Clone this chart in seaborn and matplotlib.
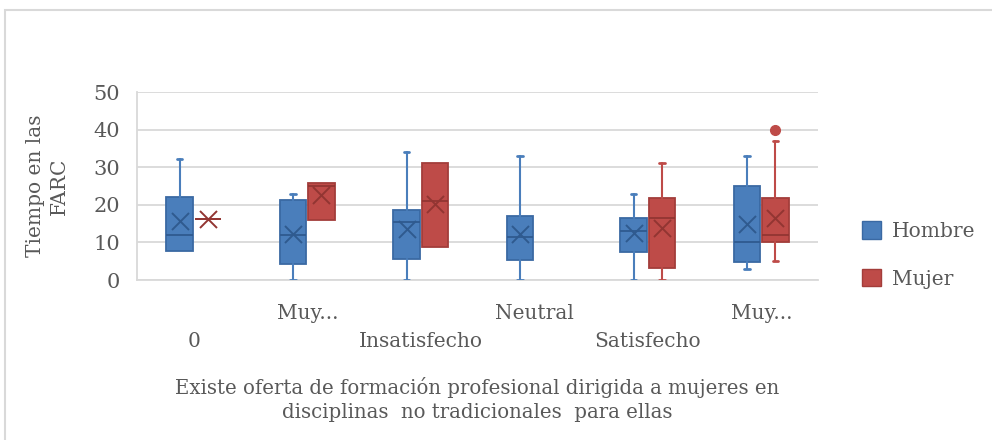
import matplotlib
matplotlib.use("Agg")
import matplotlib.pyplot as plt
from matplotlib.patches import Patch, Rectangle
import seaborn as sns

# ---- data ----
categories = ["0", "Muy...", "Insatisfecho", "Neutral", "Satisfecho", "Muy..."]
series = ["Hombre", "Mujer"]

# five-number summaries + mean per category (None = no data)
hombre_low = [7.8, 0.0, 0.0, 0.0, 0.0, 2.8]
hombre_q1 = [7.8, 4.2, 5.7, 5.3, 7.5, 4.9]
hombre_med = [11.9, 11.9, 15.5, 11.5, 13.1, 10.0]
hombre_q3 = [22.1, 21.2, 18.6, 17.0, 16.5, 24.9]
hombre_high = [32.3, 22.8, 34.0, 33.1, 22.8, 33.1]
hombre_mean = [15.7, 12.2, 13.5, 12.2, 12.4, 14.9]
hombre_out = [[], [], [], [], [], []]

mujer_low = [16.1, 15.9, 8.8, None, 0.0, 5.0]
mujer_q1 = [16.1, 15.9, 8.8, None, 3.3, 10.0]
mujer_med = [16.1, 24.9, 21.0, None, 16.5, 11.9]
mujer_q3 = [16.1, 25.9, 31.0, None, 21.7, 21.7]
mujer_high = [16.1, 25.9, 31.0, None, 31.0, 36.9]
mujer_mean = [16.1, 22.5, 20.3, None, 13.7, 16.5]
mujer_out = [[], [], [], [], [], [40.0]]

y_ticks = [0, 10, 20, 30, 40, 50]

# ---- style ----
sns.set_theme(style="white")
plt.rcParams["font.family"] = ["DejaVu Serif", "DejaVu Sans"]
text_color = "#595959"

fig = plt.figure(figsize=(9.92, 4.4), dpi=100)
ax = fig.add_axes([137 / 992, 1 - 280 / 440, (818 - 137) / 992, (280 - 92) / 440])

colors = {
    "Hombre": dict(fill="#4A7EBB", edge="#3A69A3", dark="#2F5A8F"),
    "Mujer": dict(fill="#BE4B48", edge="#A33D3A", dark="#923532"),
}
offsets = {"Hombre": -0.125, "Mujer": 0.125}
box_w = 0.235

def build(low, q1, med, q3, high, mean, outs):
    stats, pos, means = [], [], []
    for i in range(len(categories)):
        if med[i] is None:
            continue
        stats.append(dict(whislo=low[i], q1=q1[i], med=med[i], q3=q3[i],
                          whishi=high[i], mean=mean[i], fliers=outs[i]))
        pos.append(i)
        means.append(mean[i])
    return stats, pos, means

data = {
    "Hombre": build(hombre_low, hombre_q1, hombre_med, hombre_q3, hombre_high, hombre_mean, hombre_out),
    "Mujer": build(mujer_low, mujer_q1, mujer_med, mujer_q3, mujer_high, mujer_mean, mujer_out),
}

for s in series:
    stats, pos, means = data[s]
    c = colors[s]
    p = [x + offsets[s] for x in pos]
    art = ax.bxp(stats, positions=p, widths=box_w, patch_artist=True, showmeans=False,
                 showfliers=True,
                 boxprops=dict(facecolor=c["fill"], edgecolor=c["edge"], linewidth=1.3),
                 medianprops=dict(color=c["dark"], linewidth=1.3),
                 whiskerprops=dict(color=c["fill"], linewidth=1.5),
                 capprops=dict(color=c["fill"], linewidth=2.0),
                 capwidths=0.05,
                 flierprops=dict(marker="o", markerfacecolor=c["fill"], markeredgecolor=c["fill"], markersize=7),
                 zorder=3)
    # hide caps of zero-length whiskers
    for k, st in enumerate(stats):
        if st["whislo"] == st["q1"]:
            art["caps"][2 * k].set_visible(False)
        if st["whishi"] == st["q3"]:
            art["caps"][2 * k + 1].set_visible(False)
    ax.scatter(p, means, marker="x", s=150, color=c["dark"], linewidths=1.4, zorder=4)

ax.set_xlim(-0.5, len(categories) - 0.5)
ax.set_ylim(0, 50)
ax.set_yticks(y_ticks)
ax.set_yticklabels([str(v) for v in y_ticks], fontsize=15, color=text_color)
ax.yaxis.grid(True, color="#D9D9D9", linewidth=1.3)
ax.set_axisbelow(True)

xt_labels = []
for i, lab in enumerate(categories):
    xt_labels.append("\n" + lab if i % 2 == 0 else lab + "\n")
ax.set_xticks(range(len(categories)))
ax.set_xticklabels(xt_labels, fontsize=14.5, color=text_color, linespacing=1.6)
ax.tick_params(axis="x", length=0, pad=17)
ax.tick_params(axis="y", length=0, pad=12)

for sp in ["top", "right"]:
    ax.spines[sp].set_visible(False)
for sp in ["left", "bottom"]:
    ax.spines[sp].set_color("#D9D9D9")
    ax.spines[sp].set_linewidth(1.3)

ax.set_ylabel("Tiempo en las\nFARC", fontsize=14.5, color=text_color, linespacing=1.3, labelpad=18)
ax.set_xlabel("Existe oferta de formación profesional dirigida a mujeres en\ndisciplinas  no tradicionales  para ellas",
              fontsize=14.2, color=text_color, labelpad=19, linespacing=1.35)

handles = [Patch(facecolor=colors[s]["fill"], edgecolor=colors[s]["edge"], label=s) for s in series]
leg = fig.legend(handles=handles, loc="center left", bbox_to_anchor=(844 / 992, 1 - 255 / 440),
                 frameon=False, fontsize=14.5, labelspacing=1.4, handlelength=0.95,
                 handleheight=0.95, handletextpad=0.55)
for t in leg.get_texts():
    t.set_color(text_color)

fig.patches.append(Rectangle((5 / 992, -0.05), 1.1, 1 - 10 / 440 + 0.05, transform=fig.transFigure,
                             fill=False, edgecolor="#D9D9D9", linewidth=1.5))

fig.savefig("out.png", dpi=100, facecolor="white")
